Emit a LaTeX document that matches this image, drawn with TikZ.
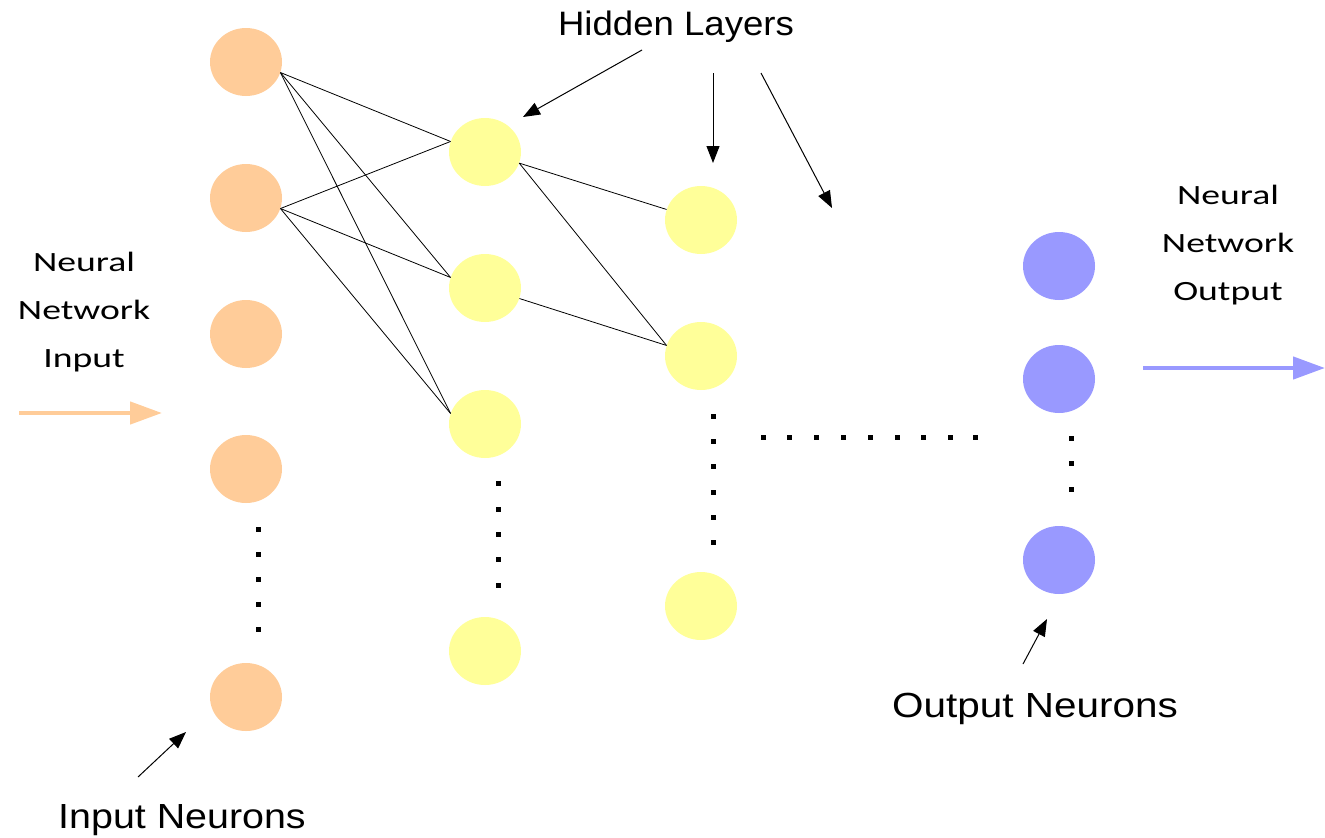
\documentclass[tikz,border=0pt]{standalone}
\usepackage{fontspec}
\setmainfont{Liberation Sans}
\newfontfamily\handfont{Carlito}
\usetikzlibrary{arrows.meta,shapes.geometric}
\definecolor{inputfill}{HTML}{FFCC99}
\definecolor{hiddenfill}{HTML}{FFFF99}
\definecolor{outputfill}{HTML}{9999FF}
\newcommand{\hw}[1]{\scalebox{1.35}[1]{#1}}

\begin{document}
\begin{tikzpicture}[x=1bp,y=-1bp,
  neuron/.style={ellipse,minimum width=72bp,minimum height=68bp,inner sep=0pt,draw=none},
  inneuron/.style={neuron,fill=inputfill},
  hidneuron/.style={neuron,fill=hiddenfill},
  outneuron/.style={neuron,fill=outputfill},
  link/.style={line width=0.8bp,black},
  pointer/.style={line width=1bp,-{Triangle[length=17bp,width=13bp]}},
  flow/.style={line width=4.5bp,-{Triangle[length=32bp,width=22bp]}},
  gapdot/.style={rectangle,fill=black,minimum size=5bp,inner sep=0pt},
  tagtext/.style={anchor=base,inner sep=0pt},
  handtext/.style={anchor=base,inner sep=0pt,align=center,font=\handfont\fontsize{28}{48}\selectfont}
]
\useasboundingbox (0,0) rectangle (1325,837);

% input layer
\node[inneuron] (i1) at (246,62) {};
\node[inneuron] (i2) at (246,198) {};
\node[inneuron] (i3) at (246,334) {};
\node[inneuron] (i4) at (246,469) {};
\node[inneuron] (i5) at (246,697) {};

% first hidden layer
\node[hidneuron] (h1) at (485,152) {};
\node[hidneuron] (h2) at (485,288) {};
\node[hidneuron] (h3) at (485,424) {};
\node[hidneuron] (h4) at (485,651) {};

% second hidden layer
\node[hidneuron] (g1) at (701,220) {};
\node[hidneuron] (g2) at (701,356) {};
\node[hidneuron] (g3) at (701,606) {};

% output layer
\node[outneuron] (o1) at (1059,266) {};
\node[outneuron] (o2) at (1059,379) {};
\node[outneuron] (o3) at (1059,560) {};

% connections
\foreach \s in {i1,i2}
  \foreach \t in {h1,h2,h3}
    \draw[link] (\s.-17) -- (\t.163);
\draw[link] (h1.-18) -- (g1.163);
\draw[link] (h1.-18) -- (g2.163);
\draw[link] (h2.-17) -- (g2.163);

% omitted neurons
\foreach \y [count=\k] in {529,554,579,604,629}
  \node[gapdot] (di\k) at (258,\y) {};
\foreach \y [count=\k] in {483,509,534,559,585}
  \node[gapdot] (dh\k) at (498,\y) {};
\foreach \y [count=\k] in {416,441,466,492,517,542}
  \node[gapdot] (dg\k) at (713,\y) {};
\foreach \y [count=\k] in {438,463,489}
  \node[gapdot] (do\k) at (1071,\y) {};
\foreach \x [count=\k] in {763,789,816,843,870,897,923,950,975}
  \node[gapdot] (dl\k) at (\x,437) {};

% labels
\node[tagtext] (hl) at (676,35) {\fontsize{34}{40}\selectfont\scalebox{1.08}[1]{Hidden Layers}};
\node[tagtext] (il) at (182,828) {\fontsize{35}{40}\selectfont\scalebox{1.13}[1]{Input Neurons}};
\node[tagtext] (ol) at (1035,717) {\fontsize{35}{40}\selectfont\scalebox{1.16}[1]{Output Neurons}};

% multi-line labels: the base anchor sits on the last line
\node[handtext] (nin) at (84,367) {\hw{Neural}\\\hw{Network}\\\hw{Input}};
\node[handtext] (nout) at (1228,300) {\hw{Neural}\\\hw{Network}\\\hw{Output}};

% pointers from the labels
\coordinate (p1) at (642,50);
\coordinate (p1t) at (523,117);
\coordinate (p2) at (713,73);
\coordinate (p2t) at (713,163);
\coordinate (p3) at (761,73);
\coordinate (p3t) at (832,208);
\coordinate (p4) at (138,777);
\coordinate (p4t) at (186,732);
\coordinate (p5) at (1023,664);
\coordinate (p5t) at (1047,619);
\draw[pointer] (p1) -- (p1t);
\draw[pointer] (p2) -- (p2t);
\draw[pointer] (p3) -- (p3t);
\draw[pointer] (p4) -- (p4t);
\draw[pointer] (p5) -- (p5t);

% data flow in and out
\coordinate (fin) at (19,413);
\coordinate (fint) at (162,413);
\coordinate (fout) at (1143,368);
\coordinate (foutt) at (1325,368);
\draw[flow,inputfill] (fin) -- (fint);
\draw[flow,outputfill] (fout) -- (foutt);
\end{tikzpicture}
\end{document}
